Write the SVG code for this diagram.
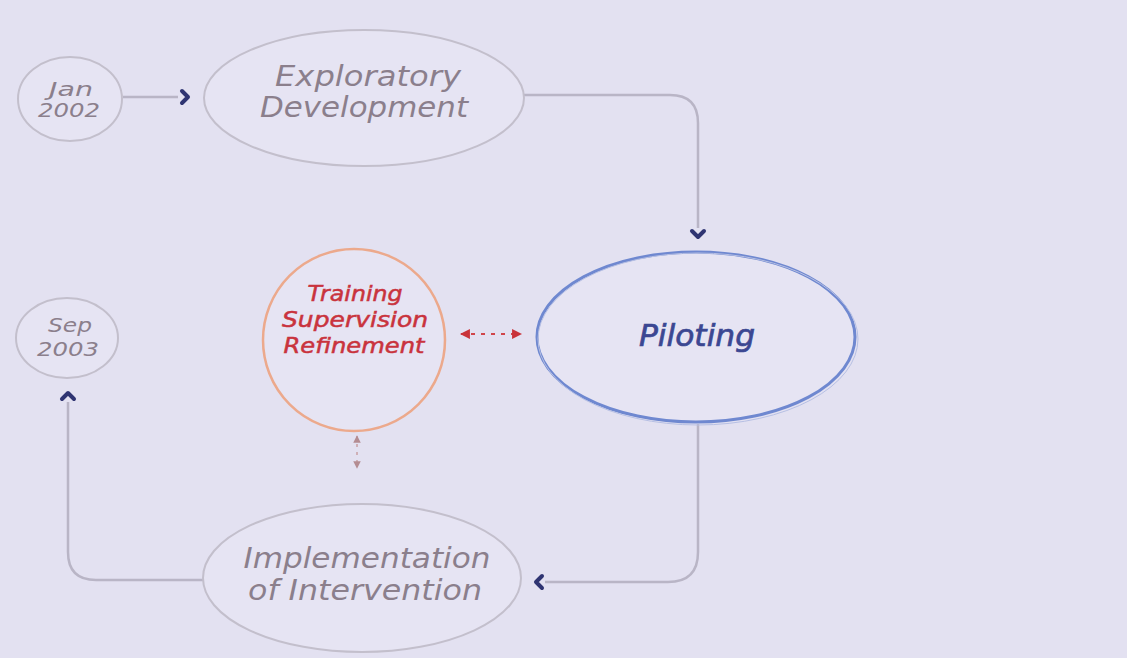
<svg xmlns="http://www.w3.org/2000/svg" width="1127" height="658" viewBox="0 0 1127 658">
<defs>
<style>
.node{fill:#e6e4f3;stroke:#c3bfcc;stroke-width:2}
.t{font-family:"DejaVu Sans","Liberation Sans",sans-serif;font-style:italic;text-anchor:middle}
.gray{fill:#8b7f8c}
.red{fill:#c9333d;stroke:#c9333d;stroke-width:0.5}
.blue{fill:#3b4792;stroke:#3b4792;stroke-width:0.7}
.conn{fill:none;stroke:#b9b5c6;stroke-width:2.5}
.chev{fill:none;stroke:#2f3472;stroke-width:4;stroke-linecap:round;stroke-linejoin:round}
.dash{fill:none;stroke:#d0454a;stroke-width:1.8;stroke-dasharray:4 6}
.dashv{fill:none;stroke:#c9a0a4;stroke-width:1.5;stroke-dasharray:3 5}
</style>
<marker id="ra" viewBox="0 0 10 10" refX="9" refY="5" markerWidth="5.5" markerHeight="5.5" orient="auto-start-reverse" markerUnits="strokeWidth">
<path d="M0,0 L10,5 L0,10 Z" fill="#c9333a"/>
</marker>
<marker id="ga" viewBox="0 0 10 10" refX="9" refY="5" markerWidth="5" markerHeight="5" orient="auto-start-reverse" markerUnits="strokeWidth">
<path d="M0,0 L10,5 L0,10 Z" fill="#b48c92"/>
</marker>
</defs>
<rect x="0" y="0" width="1127" height="658" fill="#e3e1f1"/>

<g id="connectors">
<path class="conn" d="M123,97 L178,97"/>
<path class="chev" d="M182,91 L188,97 L182,103"/>
<path class="conn" d="M524,95 L670,95 Q698,95 698,123 L698,228"/>
<path class="chev" d="M692,231 L698,237 L704,231"/>
<path class="conn" d="M698,424 L698,552 Q698,582 668,582 L545,582"/>
<path class="chev" d="M542,576 L536,582 L542,588"/>
<path class="conn" d="M206,580 L96,580 Q68,580 68,552 L68,402"/>
<path class="chev" d="M62,399 L68,393 L74,399"/>
<path class="dash" d="M461,334 L521,334" marker-start="url(#ra)" marker-end="url(#ra)"/>
<path class="dashv" d="M357,436 L357,468" marker-start="url(#ga)" marker-end="url(#ga)"/>
</g>

<g id="jan2002">
<ellipse class="node" cx="70" cy="99" rx="52" ry="42"/>
<text class="t gray" x="71" y="96" font-size="19" textLength="44" lengthAdjust="spacingAndGlyphs">Jan</text>
<text class="t gray" x="69" y="117" font-size="19" textLength="62" lengthAdjust="spacingAndGlyphs">2002</text>
</g>

<g id="exploratory">
<ellipse class="node" cx="364" cy="98" rx="160" ry="68"/>
<text class="t gray" x="368" y="86" font-size="28" textLength="186" lengthAdjust="spacingAndGlyphs">Exploratory</text>
<text class="t gray" x="364" y="117" font-size="28" textLength="208" lengthAdjust="spacingAndGlyphs">Development</text>
</g>

<g id="piloting">
<ellipse cx="696" cy="337" rx="159" ry="85" fill="#e6e4f3" stroke="#6f88d0" stroke-width="3"/>
<ellipse cx="698" cy="339" rx="160" ry="86" fill="none" stroke="#b7c0e4" stroke-width="1"/>
<text class="t blue" x="697" y="346" font-size="30" textLength="116" lengthAdjust="spacingAndGlyphs">Piloting</text>
</g>

<g id="training">
<circle cx="354" cy="340" r="91" fill="#e6e4f3" stroke="#eca98c" stroke-width="2.5"/>
<text class="t red" x="355" y="301" font-size="21" textLength="95" lengthAdjust="spacingAndGlyphs">Training</text>
<text class="t red" x="355" y="327" font-size="21" textLength="146" lengthAdjust="spacingAndGlyphs">Supervision</text>
<text class="t red" x="354" y="353" font-size="21" textLength="141" lengthAdjust="spacingAndGlyphs">Refinement</text>
</g>

<g id="sep2003">
<ellipse class="node" cx="67" cy="338" rx="51" ry="40"/>
<text class="t gray" x="70" y="332" font-size="19" textLength="44" lengthAdjust="spacingAndGlyphs">Sep</text>
<text class="t gray" x="68" y="356" font-size="19" textLength="62" lengthAdjust="spacingAndGlyphs">2003</text>
</g>

<g id="implementation">
<ellipse class="node" cx="362" cy="578" rx="159" ry="74"/>
<text class="t gray" x="367" y="568" font-size="28" textLength="247" lengthAdjust="spacingAndGlyphs">Implementation</text>
<text class="t gray" x="365" y="600" font-size="28" textLength="234" lengthAdjust="spacingAndGlyphs">of Intervention</text>
</g>
</svg>
